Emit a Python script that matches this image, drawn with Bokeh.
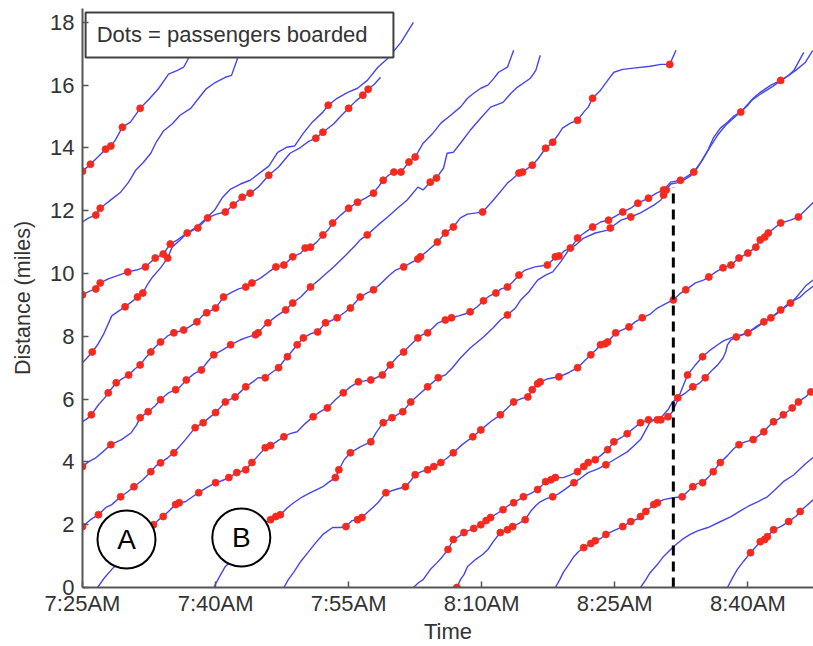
from bokeh.plotting import figure
from bokeh.models import FixedTicker, Range1d
from bokeh.embed import file_html
from bokeh.resources import INLINE
from bokeh.core.properties import value

# Each bus trajectory: (minutes after 7:25 AM, distance in miles, 1 = passengers boarded here)
bus01 = [(0,13.26,1),(0.9,13.48,1),(1.7,13.7,0),(2.6,13.96,1),(3.2,14.06,1),(3.7,14.25,0),(4.5,14.66,1),
         (5.4,14.82,0),(6.5,15.26,1),(7.6,15.58,0),(8.6,15.9,0),(9.7,16.35,0),(10.7,16.47,0),(11.4,16.57,0),(12.3,17.04,0)]
bus02 = [(0,11.64,0),(0.7,11.77,0),(1.5,11.86,1),(2.0,12.08,1),(3.3,12.37,0),(4.3,12.59,0),(5.2,12.91,0),(6.0,13.29,0),
         (6.8,13.52,0),(7.7,13.83,0),(8.3,14.18,0),(9.1,14.53,0),(10.1,14.76,0),(11.0,15.04,0),(12.2,15.26,0),(13.0,15.55,0),
         (13.9,15.87,0),(15.0,16.09,0),(16.1,16.25,0),(16.8,16.31,0),(17.6,16.95,0)]
bus03 = [(0,9.32,1),(0.8,9.44,0),(1.5,9.51,1),(2.0,9.7,1),(2.9,9.83,0),(4.1,9.95,0),(5.1,10.05,1),(6.1,10.11,0),
         (7.1,10.21,1),(7.6,10.34,0),(8.2,10.49,1),(9.1,10.62,1),(9.9,10.94,1),(10.7,11.07,0),(11.8,11.29,1),(13.0,11.45,1),
         (14.1,11.77,1),(15.1,11.89,0),(16.1,11.96,1),(17.0,12.18,1),(18.0,12.43,1),(18.9,12.56,1),(19.8,12.75,0),(21.0,13.13,1),
         (22.1,13.39,0),(23.4,13.83,0),(24.6,14.02,0),(25.5,14.21,0),(26.3,14.31,1),(27.1,14.5,1),(28.3,14.76,0),(29.1,15.01,0),
         (30.0,15.26,1),(30.8,15.49,0),(31.6,15.68,1),(32.2,15.87,1),(32.9,16.03,0),(33.6,16.25,0)]
bus04 = [(0,7.16,0),(0.5,7.31,0),(1.1,7.5,1),(1.7,7.73,0),(2.4,8.08,0),(3.3,8.65,0),(4.1,8.81,0),(4.8,8.94,1),
         (5.5,9.09,0),(6.2,9.25,1),(6.8,9.38,1),(7.3,9.64,0),(7.9,9.89,0),(8.8,10.18,0),(9.6,10.49,1),(10.1,10.84,0),
         (11.0,11.07,0),(11.8,11.29,0),(13.0,11.51,0),(14.1,11.8,0),(14.9,12.02,0),(15.8,12.43,0),(16.7,12.69,0),(17.8,12.85,0),
         (18.9,12.97,0),(20.1,13.23,0),(21.0,13.42,0),(22.0,13.86,0),(23.0,14.02,0),(23.9,14.06,0),(24.9,14.47,0),(25.9,14.82,0),
         (27.1,15.14,0),(27.7,15.36,1),(28.7,15.58,0),(29.9,15.77,0),(31.0,15.9,0),(32.1,16.15,0),(33.3,16.57,0),(34.4,16.85,0),
         (35.9,17.36,0),(37.3,18.0,0)]
bus05 = [(0,5.28,0),(0.5,5.37,0),(1.0,5.5,1),(1.8,5.82,0),(2.5,6.04,0),(2.9,6.2,1),(3.8,6.52,1),(4.5,6.65,0),(5.2,6.77,1),
         (5.9,6.96,0),(6.5,7.09,1),(7.1,7.31,0),(7.7,7.5,1),(8.2,7.66,0),(8.8,7.82,1),(9.6,8.01,0),(10.3,8.11,1),(11.4,8.2,1),
         (12.2,8.33,0),(12.9,8.46,1),(13.5,8.65,0),(14.0,8.75,1),(15.0,8.9,1),(15.9,9.25,1),(16.7,9.38,0),(17.6,9.51,0),
         (18.4,9.57,1),(19.1,9.7,1),(20.1,9.86,0),(21.0,10.05,0),(21.8,10.21,1),(22.7,10.27,1),(23.7,10.53,1),(24.6,10.65,0),
         (25.1,10.81,1),(25.7,10.84,1),(26.4,11.0,0),(27.1,11.23,1),(27.7,11.39,0),(28.2,11.61,1),(29.1,11.86,0),(30.0,12.08,1),
         (31.0,12.27,1),(31.9,12.4,0),(32.8,12.56,1),(33.4,12.78,0),(33.9,12.97,1),(34.5,13.13,0),(35.1,13.23,1),(35.9,13.23,1),
         (36.8,13.55,1),(37.5,13.71,1),(38.4,14.15,0),(39.5,14.47,0),(40.4,14.79,0),(41.5,15.04,0),(42.6,15.3,0),(43.4,15.58,0),
         (44.1,15.74,0),(44.9,15.9,0),(45.7,16.0,0),(46.3,16.19,0),(46.9,16.41,0),(47.9,16.57,0),(48.6,17.11,0)]
bus06 = [(0,3.85,1),(0.7,4.01,0),(1.5,4.13,0),(2.3,4.32,0),(3.2,4.55,1),(4.4,4.71,0),(5.5,4.93,0),(6.1,5.18,0),(6.5,5.41,1),
         (7.4,5.6,1),(8.2,5.79,0),(8.8,5.98,1),(9.7,6.2,0),(10.5,6.3,1),(11.0,6.39,0),(11.7,6.61,1),(12.6,6.81,0),(13.4,6.93,1),
         (14.1,7.19,0),(14.8,7.41,1),(15.8,7.57,0),(16.7,7.73,1),(17.8,7.89,0),(18.7,7.98,0),(19.5,8.05,1),(19.8,8.11,1),
         (20.4,8.3,0),(20.9,8.43,1),(21.9,8.65,0),(22.9,8.84,1),(23.7,9.06,1),(24.6,9.25,0),(25.7,9.57,1),(26.8,9.83,0),
         (28.3,10.21,0),(29.7,10.59,0),(30.8,10.91,0),(31.3,11.07,0),(32.1,11.23,1),(33.3,11.54,0),(34.4,11.8,0),(35.5,12.08,0),
         (36.6,12.34,0),(37.8,12.75,0),(38.4,12.66,0),(39.2,12.91,1),(39.9,13.04,1),(40.7,13.36,0),(41.1,13.83,0),(41.8,13.86,0),
         (42.6,14.15,0),(43.7,14.56,0),(44.9,14.95,0),(46.0,15.3,0),(47.4,15.45,0),(48.3,15.74,0),(49.0,15.93,0),(50.5,16.22,0),
         (51.1,16.47,0),(51.6,16.95,0)]
bus07 = [(0,1.94,1),(0.9,2.16,0),(1.8,2.32,1),(2.6,2.54,0),(3.3,2.64,0),(4.3,2.89,1),(5.1,3.05,0),(5.8,3.21,1),(6.8,3.43,0),
         (7.7,3.69,1),(8.3,3.88,0),(8.8,3.97,1),(9.6,4.13,0),(10.3,4.29,1),(10.9,4.48,0),(11.6,4.71,0),(12.7,5.09,1),(13.6,5.25,1),
         (14.3,5.41,0),(15.0,5.57,1),(16.1,5.91,1),(17.2,6.07,1),(17.8,6.23,0),(18.4,6.39,1),(19.2,6.55,0),(19.8,6.68,0),
         (20.6,6.68,1),(21.3,6.84,0),(22.1,7.0,1),(22.7,7.22,0),(23.1,7.35,1),(24.2,7.73,1),(24.9,7.95,1),(25.7,8.08,0),
         (26.5,8.14,1),(27.4,8.43,1),(28.2,8.52,0),(28.7,8.59,1),(29.5,8.75,0),(30.2,8.9,1),(30.8,9.09,0),(31.3,9.25,1),
         (32.1,9.38,0),(32.8,9.48,1),(33.6,9.67,0),(34.5,9.92,0),(35.3,10.11,0),(36.2,10.21,1),(37.0,10.34,0),(37.8,10.46,1),
         (38.1,10.53,1),(39.0,10.75,0),(40.0,11.0,1),(40.9,11.29,1),(41.8,11.48,1),(42.6,11.77,0),(43.4,11.89,0),(44.4,11.93,0),
         (45.1,11.96,1),(46.0,12.24,0),(46.8,12.5,0),(47.9,12.88,0),(48.6,13.04,0),(49.2,13.2,1),(49.6,13.23,1),(50.7,13.45,1),
         (51.4,13.67,0),(52.2,13.99,1),(53.0,14.18,1),(53.6,14.41,0),(54.1,14.63,0),(55.0,14.79,0),(55.8,14.88,1),(56.5,15.14,0),
         (57.0,15.3,0),(57.5,15.58,1),(58.4,15.84,0),(59.2,16.15,0),(59.9,16.41,0),(60.9,16.5,0),(62.1,16.54,0),(64.0,16.6,0),
         (65.2,16.66,0),(66.2,16.66,1),(66.9,17.11,0)]
bus08 = [(1.7,0,0),(2.5,0.32,0),(3.5,0.64,0),(4.8,0.99,0),(6.5,1.53,0),(8.0,2.0,1),(8.6,2.16,0),(9.1,2.26,1),(9.9,2.48,0),
         (10.5,2.64,1),(10.9,2.7,1),(11.6,2.73,0),(12.4,2.89,0),(13.1,3.02,1),(14.0,3.18,0),(15.0,3.34,1),(15.7,3.4,0),
         (16.5,3.5,1),(17.4,3.66,1),(18.4,3.75,1),(19.1,3.98,1),(19.8,4.2,0),(20.6,4.45,1),(21.2,4.52,1),(22.0,4.67,0),
         (22.7,4.8,1),(23.4,4.9,0),(24.2,4.96,0),(25.1,5.22,0),(26.0,5.44,1),(26.8,5.6,0),(27.6,5.72,1),(28.5,5.98,0),
         (29.4,6.2,1),(30.2,6.39,0),(31.1,6.55,1),(31.8,6.58,0),(32.5,6.61,1),(33.1,6.68,0),(33.8,6.77,1),(34.7,7.09,1),
         (35.5,7.35,0),(36.2,7.5,1),(37.0,7.73,0),(37.8,7.95,1),(38.3,8.05,0),(38.9,8.11,1),(39.6,8.3,0),(40.1,8.43,0),
         (40.9,8.52,1),(41.6,8.59,1),(42.4,8.65,0),(43.1,8.71,0),(43.7,8.78,1),(44.5,8.94,0),(45.2,9.13,1),(45.9,9.29,0),
         (46.6,9.38,1),(47.2,9.51,0),(47.9,9.57,1),(48.5,9.73,0),(49.2,9.95,1),(49.9,10.11,0),(51.0,10.21,0),(52.4,10.27,1),
         (53.0,10.43,0),(53.3,10.53,1),(53.7,10.56,1),(54.3,10.72,0),(55.0,10.81,1),(55.5,11.0,0),(55.8,11.13,1),(56.7,11.32,0),
         (57.5,11.48,1),(58.4,11.64,0),(59.3,11.7,1),(60.1,11.83,0),(60.9,11.96,1),(61.8,12.08,0),(62.6,12.24,1),(63.8,12.4,1),
         (64.7,12.56,0),(65.5,12.66,1),(66.3,12.91,0),(67.4,12.97,1),(68.2,13.1,0),(68.9,13.23,1),(69.7,13.55,0),(70.5,13.93,0),
         (71.1,14.31,0),(71.9,14.63,0),(72.7,14.82,0),(73.4,15.01,0),(74.2,15.14,1),(75.0,15.36,0),(75.6,15.58,0),(76.4,15.77,0),
         (77.6,16.0,0),(78.7,16.15,1),(79.6,16.31,0),(80.2,16.47,0),(80.7,16.73,0),(81.3,17.04,0)]
bus09 = [(14.8,0,0),(15.4,0.32,0),(16.1,0.67,0),(17.2,0.95,0),(18.4,1.37,0),(19.7,1.84,0),(20.6,2.07,0),(21.2,2.16,1),
         (21.8,2.26,1),(22.3,2.32,1),(23.1,2.54,0),(23.8,2.7,0),(24.8,2.89,0),(25.7,3.02,0),(26.4,3.12,0),(27.1,3.21,0),
         (27.7,3.34,0),(28.5,3.5,1),(28.9,3.75,1),(29.5,4.07,0),(30.2,4.29,1),(31.3,4.48,0),(32.5,4.64,1),(33.1,4.93,0),
         (33.9,5.25,1),(34.9,5.41,1),(36.1,5.6,1),(37.0,5.91,1),(37.9,6.14,0),(38.9,6.39,1),(40.1,6.68,1),(40.9,6.77,0),
         (41.7,7.0,0),(42.6,7.31,0),(43.7,7.63,0),(45.2,7.98,0),(46.3,8.27,0),(47.1,8.52,0),(47.9,8.68,1),(48.8,8.9,0),
         (49.4,9.16,0),(50.3,9.41,0),(51.3,9.79,0),(52.2,9.95,0),(53.0,10.05,0),(53.9,10.37,0),(54.8,10.75,0),(55.6,10.91,0),
         (56.5,11.13,0),(57.8,11.29,0),(59.2,11.38,0),(59.5,11.45,1),(60.7,11.7,0),(61.8,11.8,1),(62.9,11.93,0),(64.4,12.18,0),
         (65.2,12.34,0),(65.5,12.5,1),(65.8,12.66,1),(66.3,12.85,0),(67.4,12.91,0),(68.5,13.1,0),(69.3,13.36,0),(70.0,13.67,0),
         (70.8,14.06,0),(71.6,14.41,0),(72.5,14.72,0),(73.4,14.95,0),(74.4,15.2,0),(75.3,15.49,0),(76.4,15.71,0),(77.8,15.96,0),
         (79.3,16.25,0),(80.4,16.47,0),(81.5,16.73,0),(82.3,17.1,0)]
bus10 = [(22.7,0,0),(23.2,0.25,0),(23.8,0.48,0),(24.6,0.83,0),(25.4,1.11,0),(26.3,1.43,0),(27.1,1.69,0),(28.2,1.91,0),
         (29.1,1.91,0),(29.7,1.94,1),(30.4,2.13,0),(31.0,2.16,1),(31.5,2.23,1),(32.1,2.39,0),(32.7,2.54,0),(33.3,2.7,0),
         (34.2,3.02,1),(35.3,3.12,0),(36.4,3.21,1),(37.0,3.4,0),(37.5,3.59,1),(38.2,3.69,0),(38.9,3.75,1),(39.6,3.85,1),
         (40.4,3.98,1),(41.0,4.1,0),(41.8,4.29,1),(42.8,4.55,0),(44.0,4.8,1),(44.9,5.02,1),(46.0,5.28,0),(47.1,5.5,1),
         (47.9,5.72,0),(48.6,5.91,1),(49.4,6.01,0),(50.2,6.07,1),(50.7,6.3,1),(51.3,6.49,1),(51.6,6.55,1),(52.5,6.65,0),
         (53.7,6.71,1),(54.8,6.84,0),(55.8,7.0,1),(56.6,7.22,0),(57.3,7.41,1),(57.9,7.57,0),(58.4,7.73,1),(58.9,7.76,1),
         (59.2,7.82,1),(59.8,8.01,0),(60.1,8.11,1),(60.8,8.2,0),(61.6,8.3,1),(62.3,8.46,0),(63.1,8.59,1),(64.0,8.71,0),
         (64.8,8.9,0),(65.7,9.03,0),(66.6,9.16,1),(67.3,9.35,0),(68.0,9.48,1),(69.1,9.7,0),(70.0,9.79,0),(70.6,9.89,1),
         (71.4,10.05,0),(72.2,10.18,1),(73.1,10.27,1),(74.0,10.49,1),(75.0,10.65,1),(75.9,10.84,1),(76.4,11.07,1),(76.9,11.16,1),
         (77.3,11.29,1),(78.0,11.45,0),(78.7,11.61,1),(79.8,11.7,0),(80.7,11.8,1),(81.5,12.02,0),(82.4,12.27,0)]
bus11 = [(37.3,0,0),(37.9,0.16,0),(38.4,0.25,0),(39.2,0.57,0),(40.0,0.8,0),(40.6,0.99,0),(41.2,1.21,1),(41.8,1.53,1),
         (42.4,1.62,0),(43.0,1.75,1),(43.5,1.81,0),(44.1,1.88,1),(44.9,2.0,1),(45.5,2.13,1),(46.0,2.23,1),(46.7,2.35,0),
         (47.4,2.48,1),(48.0,2.61,0),(48.6,2.7,1),(49.2,2.8,0),(49.7,2.89,1),(50.5,2.99,0),(51.3,3.12,1),(51.9,3.28,0),
         (52.2,3.37,1),(52.8,3.43,1),(53.3,3.5,1),(54.2,3.5,0),(55.0,3.59,0),(55.8,3.69,1),(56.5,3.85,1),(57.0,3.98,1),
         (57.8,4.07,1),(58.4,4.2,0),(59.2,4.39,1),(59.9,4.64,1),(60.7,4.77,0),(61.4,4.9,1),(62.2,5.09,0),(62.9,5.25,1),
         (63.8,5.34,1),(64.8,5.34,1),(65.4,5.47,0),(66.0,5.66,0),(66.5,5.91,0),(67.1,6.04,1),(68.0,6.2,0),(68.8,6.39,1),
         (69.6,6.52,0),(70.2,6.68,1),(71.0,6.93,0),(71.6,7.09,0),(72.2,7.31,0),(72.5,7.5,0),(72.7,7.73,0),(73.1,7.89,0),
         (73.7,7.98,1),(74.4,8.05,0),(75.0,8.11,1),(75.9,8.3,0),(76.8,8.46,1),(77.6,8.59,1),(78.1,8.71,0),(78.7,8.84,1),
         (79.4,9.0,0),(79.8,9.06,1),(80.3,9.16,0),(80.9,9.25,0),(81.5,9.41,0),(82.4,9.6,0)]
bus12 = [(42.2,0,1),(42.6,0.25,0),(43.0,0.41,0),(43.4,0.67,0),(44.3,0.89,0),(45.1,1.05,0),(45.7,1.21,0),(46.3,1.46,0),
         (47.1,1.75,1),(47.9,1.84,1),(48.5,1.94,1),(49.2,2.04,0),(49.9,2.16,1),(50.5,2.42,0),(51.1,2.61,0),(51.6,2.73,0),
         (52.3,2.83,0),(53.0,2.89,1),(53.7,2.99,0),(54.5,3.15,0),(55.4,3.34,1),(56.1,3.47,0),(57.0,3.66,0),(58.1,3.78,0),
         (59.0,3.91,1),(60.1,4.1,0),(61.4,4.32,0),(62.2,4.52,0),(62.9,4.71,0),(63.5,5.02,0),(64.0,5.28,0),(64.6,5.34,0),
         (65.2,5.34,1),(66.0,5.44,1),(66.5,5.6,0),(67.0,5.91,0),(67.4,6.2,0),(68.2,6.77,1),(69.0,7.06,0),(69.9,7.35,1),
         (70.8,7.57,0),(71.6,7.73,0),(72.3,7.86,0),(73.1,7.95,0),(74.7,8.08,0),(75.9,8.27,0),(77.0,8.49,0),(78.1,8.68,0),
         (79.3,8.94,0),(80.4,9.22,0),(81.5,9.6,0),(82.4,9.8,0)]
bus13 = [(53.3,0,0),(53.8,0.25,0),(54.2,0.48,0),(54.8,0.73,0),(55.4,0.99,0),(55.9,1.14,0),(56.5,1.27,1),(57.3,1.4,1),
         (57.8,1.49,1),(58.4,1.56,0),(59.0,1.69,1),(59.9,1.81,0),(60.9,1.94,1),(61.8,2.1,1),(62.6,2.19,0),(62.9,2.26,1),
         (63.5,2.42,1),(64.0,2.54,0),(64.4,2.64,1),(64.8,2.7,1),(65.5,2.8,0),(66.6,2.86,0),(67.6,2.89,1),(68.2,3.05,0),
         (68.8,3.21,1),(69.3,3.31,0),(69.9,3.34,1),(70.6,3.53,0),(71.1,3.69,1),(71.9,3.98,1),(72.7,4.2,0),(73.4,4.42,0),
         (74.0,4.55,1),(74.7,4.64,0),(75.6,4.71,1),(76.2,4.83,0),(76.8,4.96,1),(77.3,5.12,0),(77.9,5.28,1),(78.5,5.37,0),
         (79.0,5.5,1),(79.6,5.63,0),(80.0,5.72,1),(80.7,5.91,1),(81.5,6.07,0),(82.1,6.23,1),(82.4,6.3,0)]
bus14 = [(62.9,0,0),(63.5,0.25,0),(64.0,0.48,0),(64.8,0.73,0),(65.5,0.99,0),(66.6,1.3,0),(67.6,1.53,0),(68.5,1.69,0),
         (69.4,1.81,0),(70.5,1.91,0),(71.7,2.07,0),(73.1,2.26,0),(74.2,2.45,0),(75.0,2.58,0),(76.1,2.73,0),(77.2,2.89,0),
         (78.1,3.12,0),(79.0,3.37,0),(80.2,3.59,0),(80.9,3.78,0),(81.5,3.94,0),(82.4,4.15,0)]
bus15 = [(72.7,0,0),(73.3,0.32,0),(73.8,0.57,0),(74.5,0.83,0),(75.3,1.11,1),(75.9,1.3,0),(76.4,1.46,1),(76.9,1.53,1),
         (77.2,1.62,1),(77.9,1.84,1),(78.7,1.94,0),(79.6,2.1,1),(80.4,2.26,0),(80.9,2.42,1),(81.5,2.58,0),(82.4,2.8,0)]

buses = [bus01, bus02, bus03, bus04, bus05, bus06, bus07, bus08, bus09, bus10, bus11, bus12, bus13, bus14, bus15]

x_ticks = [0, 15, 30, 45, 60, 75]
x_tick_labels = ["7:25AM", "7:40AM", "7:55AM", "8:10AM", "8:25AM", "8:40AM"]
y_ticks = [0, 2, 4, 6, 8, 10, 12, 14, 16, 18]

dashed_time = 66.6
dashed_top = 12.75
circle_labels = ["A", "B"]
circle_t = [4.96, 17.9]
circle_d = [1.53, 1.59]
legend_text = "Dots = passengers boarded"
x_title = "Time"
y_title = "Distance (miles)"

FONT = "Liberation Sans"
LINE_BLUE = "#4646ea"
DOT_RED = "#f52a1e"
TEXT_COLOR = "#333333"

p = figure(width=813, height=646, output_backend="svg", toolbar_location=None,
           x_range=Range1d(0, 82.4), y_range=Range1d(0, 18.44),
           min_border_left=82, min_border_right=0, min_border_top=8, min_border_bottom=58)
p.outline_line_color = None
p.background_fill_color = "white"
p.border_fill_color = "white"
p.xgrid.visible = False
p.ygrid.visible = False

for bus in buses:
    ts = [r[0] for r in bus]
    ds = [r[1] for r in bus]
    p.line(ts, ds, line_color=LINE_BLUE, line_width=1.4)

for bus in buses:
    bt = [r[0] for r in bus if r[2]]
    bd = [r[1] for r in bus if r[2]]
    p.scatter(bt, bd, marker="circle", size=7, fill_color=DOT_RED, line_color=DOT_RED, line_width=0.8)

p.line([dashed_time, dashed_time], [0, dashed_top], line_color="black", line_width=3, line_dash="10 6")

p.scatter(circle_t, circle_d, marker="circle", size=58, fill_color="white", line_color="black", line_width=2)
p.text(circle_t, circle_d, text=circle_labels, text_font=value(FONT), text_font_size="28px",
       text_align="center", text_baseline="middle", text_color="black")

# legend box (on top)
p.quad(left=[0.35], right=[35.05], top=[18.31], bottom=[16.88], fill_color="white",
       line_color="#404040", line_width=2)
p.text([1.6], [17.6], text=[legend_text], text_font=value(FONT), text_font_size="22px",
       text_baseline="middle", text_color=TEXT_COLOR)

for ax in (p.xaxis[0], p.yaxis[0]):
    ax.axis_line_color = "#555555"
    ax.axis_line_width = 2
    ax.major_tick_line_color = "#555555"
    ax.major_tick_line_width = 1.5
    ax.major_tick_in = 6
    ax.major_tick_out = 0
    ax.minor_tick_line_color = None
    ax.major_label_text_font = FONT
    ax.major_label_text_font_size = "22px"
    ax.major_label_text_color = TEXT_COLOR
    ax.axis_label_text_font = FONT
    ax.axis_label_text_font_style = "normal"
    ax.axis_label_text_color = TEXT_COLOR

p.xaxis.ticker = FixedTicker(ticks=x_ticks)
p.xaxis.major_label_overrides = {t: s for t, s in zip(x_ticks, x_tick_labels)}
p.xaxis.major_label_standoff = 3
p.xaxis.axis_label = x_title
p.xaxis.axis_label_text_font_size = "22px"
p.xaxis.axis_label_standoff = 0

p.yaxis.ticker = FixedTicker(ticks=y_ticks)
p.yaxis.major_label_standoff = 8
p.yaxis.axis_label = y_title
p.yaxis.axis_label_text_font_size = "21.5px"
p.yaxis.axis_label_standoff = 12

open("out.html", "w").write(file_html(p, INLINE))
